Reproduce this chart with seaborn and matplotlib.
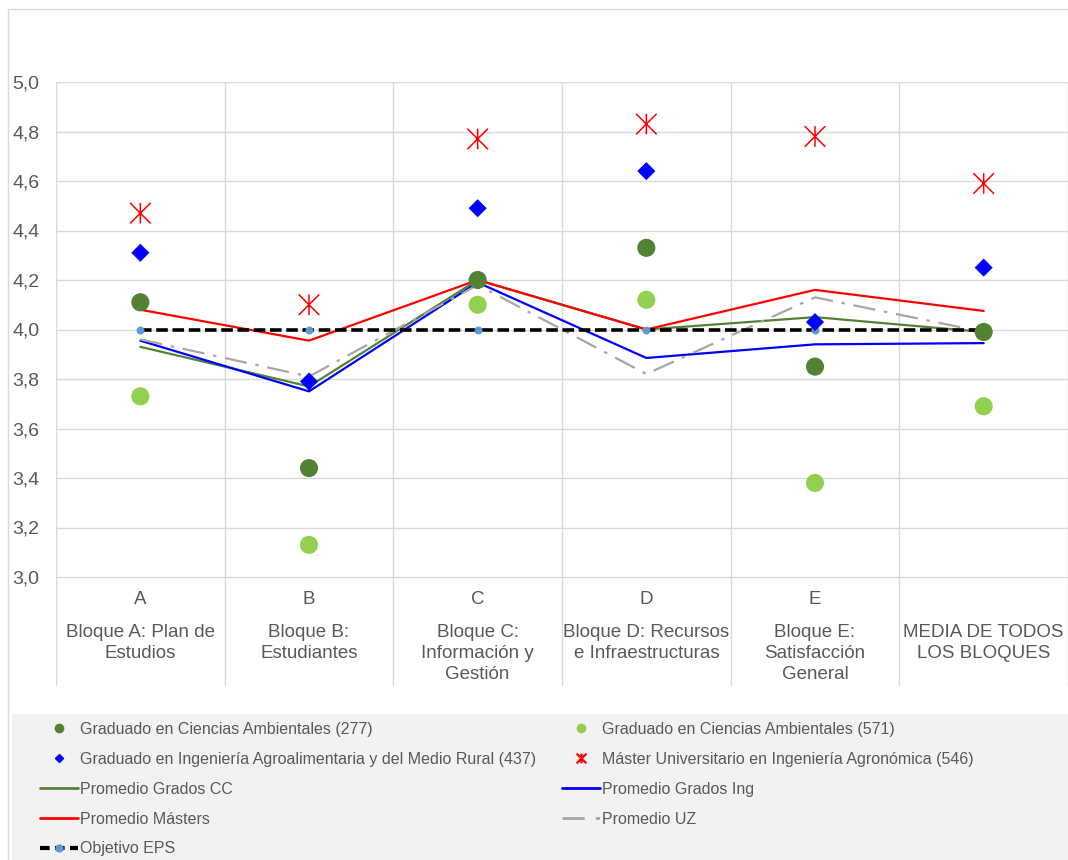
import numpy as np
import pandas as pd
import matplotlib
matplotlib.use("Agg")
import matplotlib.pyplot as plt
from matplotlib.lines import Line2D
from matplotlib.patches import Rectangle
from matplotlib.path import Path
import seaborn as sns

#########
# Daten #
#########

letras = ["A", "B", "C", "D", "E", ""]
bloques = ["Bloque A: Plan de\nEstudios",
           "Bloque B:\nEstudiantes",
           "Bloque C:\nInformación y\nGestión",
           "Bloque D: Recursos\ne Infraestructuras",
           "Bloque E:\nSatisfacción\nGeneral",
           "MEDIA DE TODOS\nLOS BLOQUES"]

cc_277     = [4.11, 3.44, 4.20, 4.33, 3.85, 3.99]
cc_571     = [3.73, 3.13, 4.10, 4.12, 3.38, 3.69]
ing_437    = [4.31, 3.79, 4.49, 4.64, 4.03, 4.25]
master_546 = [4.47, 4.10, 4.77, 4.83, 4.78, 4.59]

prom_cc     = [3.93, 3.77, 4.20, 4.00, 4.05, 3.99]
prom_ing    = [3.955, 3.75, 4.19, 3.885, 3.94, 3.945]
prom_master = [4.08, 3.955, 4.20, 4.00, 4.16, 4.075]
prom_uz     = [3.96, 3.81, 4.18, 3.82, 4.13, 3.99]
objetivo    = [4.0, 4.0, 4.0, 4.0, 4.0, 4.0]

yticks = [3.0, 3.2, 3.4, 3.6, 3.8, 4.0, 4.2, 4.4, 4.6, 4.8, 5.0]

etiquetas = ["Graduado en Ciencias Ambientales (277)",
             "Graduado en Ciencias Ambientales (571)",
             "Graduado en Ingeniería Agroalimentaria y del Medio Rural (437)",
             "Máster Universitario en Ingeniería Agronómica (546)",
             "Promedio Grados CC",
             "Promedio Grados Ing",
             "Promedio Másters",
             "Promedio UZ",
             "Objetivo EPS"]

pos = np.arange(len(bloques))
df = pd.DataFrame({"pos": pos, "cc_277": cc_277, "cc_571": cc_571,
                   "ing_437": ing_437, "master_546": master_546,
                   "prom_cc": prom_cc, "prom_ing": prom_ing,
                   "prom_master": prom_master, "prom_uz": prom_uz,
                   "objetivo": objetivo})

sns.set_style("white")
plt.rcParams["font.family"] = ["Liberation Sans", "DejaVu Sans"]

gris_txt = "#595959"
c_dgreen = "#548235"
c_lgreen = "#92d050"
c_blue = "#0000ff"
c_red = "#ff0000"
c_gray = "#a6a6a6"
c_obj = "#5b9bd5"

asterisco = Path([(0, -1), (0, 1), (-1, -1), (1, 1), (-1, 1), (1, -1)],
                 [Path.MOVETO, Path.LINETO, Path.MOVETO, Path.LINETO,
                  Path.MOVETO, Path.LINETO])

W, H = 1068, 860
fig = plt.figure(figsize=(W / 100, H / 100), dpi=100)

# Rahmen + Legendenhintergrund
fig.patches.append(Rectangle((8 / W, -0.1), 1.2, 1.1 - 9 / H, transform=fig.transFigure,
                             facecolor="none", edgecolor="#d9d9d9", lw=1, zorder=0))
fig.patches.append(Rectangle((12 / W, 0), 1.0, (H - 714) / H, transform=fig.transFigure,
                             facecolor="#f2f2f2", edgecolor="none", zorder=0))

ax_left, ax_top, ax_bot = 56, 82, 686
ax = fig.add_axes([ax_left / W, 1 - ax_bot / H, (W - ax_left) / W, (ax_bot - ax_top) / H])
ax.patch.set_alpha(0)

px_per_unit = (577 - 82) / 2.0
ax.set_ylim(3.0 - (ax_bot - 577) / px_per_unit, 5.0)
ax.set_xlim(-0.5, -0.5 + (W - ax_left) / 169)

# Linien
sns.lineplot(data=df, x="pos", y="prom_cc", color=c_dgreen, lw=1.6, ax=ax, zorder=3)
sns.lineplot(data=df, x="pos", y="prom_ing", color=c_blue, lw=1.6, ax=ax, zorder=3)
sns.lineplot(data=df, x="pos", y="prom_master", color=c_red, lw=1.6, ax=ax, zorder=3)
sns.lineplot(data=df, x="pos", y="prom_uz", color=c_gray, lw=1.6,
             linestyle=(0, (10, 4, 1.5, 4)), ax=ax, zorder=3)
sns.lineplot(data=df, x="pos", y="objetivo", color="black", lw=2.6,
             linestyle=(0, (3.2, 1.3)), marker="o", markersize=5,
             markerfacecolor=c_obj, markeredgecolor=c_obj, ax=ax, zorder=4)

# Punkte
sns.scatterplot(data=df, x="pos", y="cc_571", color=c_lgreen, s=170, edgecolor="none",
                ax=ax, zorder=5)
sns.scatterplot(data=df, x="pos", y="cc_277", color=c_dgreen, s=170, edgecolor="none",
                ax=ax, zorder=5)
sns.scatterplot(data=df, x="pos", y="ing_437", color=c_blue, marker="D", s=85,
                edgecolor="none", ax=ax, zorder=6)
sns.scatterplot(data=df, x="pos", y="master_546", color=c_red, marker=asterisco, s=220,
                edgecolor=c_red, facecolor="none", linewidth=1.1, ax=ax, zorder=6)

# Achsen
ax.set_yticks(yticks)
ax.set_yticklabels([f"{v:.1f}".replace(".", ",") for v in yticks], fontsize=14, color=gris_txt)
ax.set_xticks(pos)
ax.set_xticklabels([])
ax.set_xticks(np.arange(-0.5, len(bloques) + 0.5, 1), minor=True)
ax.tick_params(axis="both", which="both", length=0)
ax.tick_params(axis="y", pad=12)
ax.grid(axis="y", which="major", color="#d9d9d9", lw=1)
ax.grid(axis="x", which="minor", color="#d9d9d9", lw=1)
ax.grid(axis="x", which="major", visible=False)
ax.set_xlabel("")
ax.set_ylabel("")
for s in ax.spines.values():
    s.set_visible(False)

for i in pos:
    ax.text(i, (ax_bot - 599) / (ax_bot - ax_top), letras[i], transform=ax.get_xaxis_transform(),
            ha="center", va="center", fontsize=13.5, color=gris_txt)
    ax.text(i, (ax_bot - 624) / (ax_bot - ax_top), bloques[i], transform=ax.get_xaxis_transform(),
            ha="center", va="top", fontsize=13.5, color=gris_txt, linespacing=1.32)

# Legende
h_cc277 = Line2D([], [], ls="", marker="o", ms=6, color=c_dgreen)
h_cc571 = Line2D([], [], ls="", marker="o", ms=6, color=c_lgreen)
h_ing = Line2D([], [], ls="", marker="D", ms=4.5, color=c_blue)
h_mas = Line2D([], [], ls="", marker=asterisco, ms=7, color=c_red, mew=1.6)
h_pcc = Line2D([], [], color=c_dgreen, lw=2)
h_ping = Line2D([], [], color=c_blue, lw=2)
h_pmas = Line2D([], [], color=c_red, lw=2)
h_puz = Line2D([], [], color=c_gray, lw=2, ls=(0, (8, 4, 1.5, 4)))
h_obj = Line2D([], [], color="black", lw=3, ls=(0, (2.3, 1.3)), marker="o", ms=5,
               mfc=c_obj, mec=c_obj)

handles = [h_cc277, h_ing, h_pcc, h_pmas, h_obj, h_cc571, h_mas, h_ping, h_puz]
labels = [etiquetas[0], etiquetas[2], etiquetas[4], etiquetas[6], etiquetas[8],
          etiquetas[1], etiquetas[3], etiquetas[5], etiquetas[7]]
fig.legend(handles, labels, loc="upper left", bbox_to_anchor=(40 / W, 1 - 722 / H),
           ncol=2, frameon=False, fontsize=11.5, labelcolor=gris_txt,
           handlelength=2.4, handletextpad=0.1, labelspacing=0.93, columnspacing=1.6,
           borderpad=0, borderaxespad=0)

plt.savefig("out.png", dpi=100)
